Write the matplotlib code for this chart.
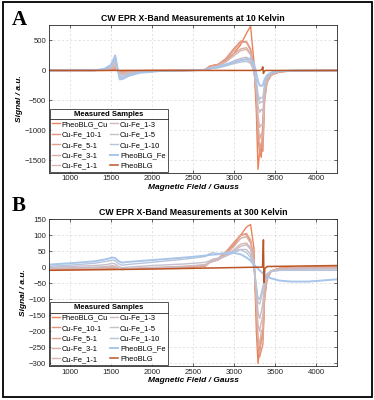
#!/usr/bin/env python3

import matplotlib
matplotlib.use( 'Agg' )
import matplotlib.pyplot as plt
from matplotlib.patches import Rectangle
from matplotlib.lines import Line2D

plt.rcParams['font.family'] = [ 'Liberation Sans', 'DejaVu Sans' ]

labels = [ 'PheoBLG_Cu', 'Cu-Fe_10-1', 'Cu-Fe_5-1', 'Cu-Fe_3-1', 'Cu-Fe_1-1',
           'Cu-Fe_1-3', 'Cu-Fe_1-5', 'Cu-Fe_1-10', 'PheoBLG_Fe', 'PheoBLG' ]

colors = [ '#E8835A', '#E6927A', '#E1A18C', '#DAAEA2', '#D5B7B4',
           '#CDB9C2', '#C5C0CC', '#B7C4DA', '#A9C5EA', '#BC5526' ]

# ---- 10 K : magnetic field grid (Gauss) shared by the nine samples
field10 = [ 750, 1300, 1420, 1500, 1540, 1555, 1580, 1610, 1650, 1720, 1850,
            2100, 2500, 2650, 2700, 2740, 2800, 2900, 3000, 3080, 3150, 3200,
            3240, 3270, 3290, 3310, 3330, 3350, 3370, 3400, 3450, 3550, 3700,
            4250 ]

sig10_PheoBLG_Cu = [ 0, 0, 0, 2, 4, 5, 2, -3, -3, -2, -1, 0, 2, 15, 70, 85, 100,
                     170, 290, 430, 620, 740, 150, -700, -1650, -1350, -1450,
                     -800, -350, -150, -70, -25, -8, 0 ]
sig10_CuFe_10_1  = [ 0, 0, 2, 8, 18, 22, 5, -15, -14, -9, -4, -1, 2, 15, 65, 80,
                     95, 200, 370, 490, 480, 360, 60, -450, -1100, -1400, -1250,
                     -1350, -500, -200, -80, -25, -7, 0 ]
sig10_CuFe_5_1   = [ 0, 0, 4, 14, 30, 38, 9, -25, -23, -15, -6, -2, 2, 12, 60, 75,
                     90, 190, 340, 470, 470, 330, 40, -400, -1000, -1300, -1200,
                     -1250, -480, -190, -75, -23, -6, 0 ]
sig10_CuFe_3_1   = [ 0, 1, 6, 22, 50, 62, 15, -38, -35, -23, -10, -3, 2, 10, 50,
                     60, 75, 150, 280, 360, 380, 280, 20, -350, -900, -1150,
                     -1050, -1100, -430, -170, -65, -20, -5, 0 ]
sig10_CuFe_1_1   = [ 0, 1, 9, 32, 70, 88, 21, -53, -50, -32, -14, -4, 2, 10, 45,
                     55, 70, 140, 250, 330, 350, 260, 20, -300, -750, -950, -900,
                     -920, -380, -150, -60, -18, -5, 0 ]
sig10_CuFe_1_3   = [ 0, 1, 12, 45, 100, 125, 30, -75, -70, -45, -20, -5, 2, 8, 35,
                     45, 55, 100, 160, 200, 220, 170, 10, -250, -600, -700, -650,
                     -680, -300, -120, -50, -15, -4, 0 ]
sig10_CuFe_1_5   = [ 0, 1, 16, 58, 130, 162, 39, -98, -91, -58, -26, -6, 2, 8, 30,
                     38, 45, 85, 130, 170, 180, 140, 0, -200, -450, -550, -520,
                     -530, -250, -100, -40, -12, -3, 0 ]
sig10_CuFe_1_10  = [ 0, 2, 20, 72, 160, 200, 48, -120, -112, -72, -32, -8, 2, 8,
                     28, 35, 42, 75, 115, 140, 150, 120, -10, -180, -400, -480,
                     -450, -460, -220, -90, -35, -10, -3, 0 ]
sig10_PheoBLG_Fe = [ 0, 2, 25, 90, 200, 250, 60, -150, -140, -90, -40, -10, 2, 10,
                     30, 40, 60, 100, 140, 170, 190, 200, 120, -50, -180, -250,
                     -260, -240, -150, -80, -35, -12, -3, 0 ]

field10_PheoBLG = [ 750, 3320, 3338, 3348, 3356, 3366, 3380, 4250 ]
sig10_PheoBLG   = [ 0, 0, 20, 60, -50, -12, 0, 0 ]

# ---- 300 K : magnetic field grid (Gauss) shared by the nine samples
field300 = [ 750, 1000, 1300, 1450, 1520, 1555, 1600, 1640, 1700, 2000, 2400,
             2650, 2700, 2740, 2800, 2900, 3000, 3080, 3150, 3200, 3240, 3270,
             3290, 3310, 3330, 3350, 3370, 3400, 3450, 3550, 3700, 3900, 4250 ]

sig300_PheoBLG_Cu = [ -8, -7, -6, -6, -6, -6, -6, -6, -6, -4, -2, 3, 15, 18, 22,
                      40, 70, 100, 125, 133, 60, -200, -300, -250, -230, -200,
                      -90, -35, -12, -4, -2, 0, 0 ]
sig300_CuFe_10_1  = [ -7, -6, -5, -5, -4, -4, -5, -6, -5, -3, 0, 5, 15, 20, 26,
                      48, 78, 100, 102, 80, 20, -130, -250, -280, -260, -240,
                      -100, -38, -12, -4, -2, 0, 0 ]
sig300_CuFe_5_1   = [ -7, -6, -5, -4, -3, -3, -5, -6, -5, -3, 0, 5, 15, 20, 25,
                      45, 75, 100, 105, 85, 25, -120, -250, -270, -230, -220,
                      -90, -35, -12, -4, -2, -1, 0 ]
sig300_CuFe_3_1   = [ -6, -5, -4, -3, -1, -2, -5, -7, -6, -3, 1, 5, 14, 18, 24,
                      40, 65, 90, 95, 75, 20, -110, -220, -240, -200, -190, -80,
                      -30, -12, -5, -3, -2, -2 ]
sig300_CuFe_1_1   = [ -5, -4, -3, -1, 1, 0, -5, -8, -6, -3, 2, 6, 14, 18, 22, 35,
                      55, 72, 75, 60, 15, -90, -180, -200, -170, -150, -70, -30,
                      -12, -6, -4, -3, -3 ]
sig300_CuFe_1_3   = [ -3, -2, 0, 2, 5, 3, -4, -7, -5, -1, 3, 8, 15, 20, 25, 35,
                      50, 65, 70, 55, 10, -70, -140, -160, -140, -110, -55, -25,
                      -12, -8, -6, -5, -5 ]
sig300_CuFe_1_5   = [ 0, 2, 5, 8, 12, 10, 2, -2, 0, 5, 10, 15, 20, 25, 28, 35,
                      45, 55, 55, 40, 5, -60, -110, -115, -95, -70, -40, -22,
                      -14, -10, -8, -6, -5 ]
sig300_CuFe_1_10  = [ 3, 6, 12, 18, 22, 20, 10, 6, 8, 15, 25, 33, 42, 45, 42, 45,
                      50, 55, 45, 30, 0, -60, -95, -100, -80, -60, -35, -20, -12,
                      -10, -10, -10, -10 ]
sig300_PheoBLG_Fe = [ 8, 12, 18, 25, 30, 28, 18, 14, 16, 22, 30, 36, 38, 39, 40,
                      43, 44, 40, 30, 20, 8, 0, -5, -10, -15, -20, -25, -30, -35,
                      -42, -45, -45, -38 ]

field300_PheoBLG = [ 750, 2000, 3300, 3345, 3356, 3360, 3365, 3372, 3400, 4250 ]
sig300_PheoBLG   = [ -10, -6, 0, 0, 85, 0, -48, -5, 2, 5 ]

sig10 = [ sig10_PheoBLG_Cu, sig10_CuFe_10_1, sig10_CuFe_5_1, sig10_CuFe_3_1,
          sig10_CuFe_1_1, sig10_CuFe_1_3, sig10_CuFe_1_5, sig10_CuFe_1_10,
          sig10_PheoBLG_Fe ]
sig300 = [ sig300_PheoBLG_Cu, sig300_CuFe_10_1, sig300_CuFe_5_1, sig300_CuFe_3_1,
           sig300_CuFe_1_1, sig300_CuFe_1_3, sig300_CuFe_1_5, sig300_CuFe_1_10,
           sig300_PheoBLG_Fe ]

W, H = 374, 400
fig = plt.figure( figsize = ( W / 100, H / 100 ), dpi = 100 )

axA = fig.add_axes( [ 49 / W, 1 - 172.7 / H, 288 / W, 147.7 / H ] )
axB = fig.add_axes( [ 49 / W, 1 - 366 / H, 288 / W, 147 / H ] )

tickCol = '#262626'

def style( ax, title, ylim, yticks ):
    ax.set_xlim( 750, 4250 )
    ax.set_ylim( *ylim )
    ax.set_xticks( [ 1000, 1500, 2000, 2500, 3000, 3500, 4000 ] )
    ax.set_yticks( yticks )
    ax.tick_params( direction = 'in', length = 2, width = 0.5,
                    labelsize = 5.6, colors = tickCol, pad = 2,
                    top = True, right = True )
    for s in ax.spines.values():
        s.set_color( tickCol )
        s.set_linewidth( 0.6 )
    ax.grid( True, linestyle = ( 0, ( 3, 3 ) ), color = '#262626',
             alpha = 0.18, linewidth = 0.5 )
    ax.set_axisbelow( True )
    ax.set_title( title, fontsize = 6.3, fontweight = 'bold', pad = 3 )
    ax.set_xlabel( 'Magnetic Field / Gauss', fontsize = 6.0,
                   fontweight = 'bold', style = 'italic', labelpad = 1 )
    ax.set_ylabel( 'Signal / a.u.', fontsize = 6.0, fontweight = 'bold',
                   style = 'italic', labelpad = 1 )

def legend( ax ):
    leg = ax.legend( ncol = 2, loc = 'lower left', title = 'Measured Samples',
                     fontsize = 5.4, title_fontproperties = { 'size': 5.5,
                     'weight': 'bold' }, frameon = True, fancybox = False,
                     borderaxespad = 0.15, borderpad = 0.25,
                     handlelength = 1.0, handletextpad = 0.3,
                     columnspacing = 0.3, labelspacing = 0.42 )
    leg.get_frame().set_edgecolor( '#262626' )
    leg.get_frame().set_linewidth( 0.7 )
    return leg

for i in range( 9 ):
    axA.plot( field10, sig10[i], color = colors[i],
              lw = 1.4 if i == 8 else 1.0, label = labels[i] )
axA.plot( field10_PheoBLG, sig10_PheoBLG, color = colors[9], lw = 1.1,
          label = labels[9] )

for i in range( 9 ):
    axB.plot( field300, sig300[i], color = colors[i],
              lw = 1.4 if i == 8 else 1.0, label = labels[i] )
axB.plot( field300_PheoBLG, sig300_PheoBLG, color = colors[9], lw = 1.1,
          label = labels[9] )

style( axA, 'CW EPR X-Band Measurements at 10 Kelvin', ( -1706, 758 ),
       [ -1500, -1000, -500, 0, 500 ] )
style( axB, 'CW EPR X-Band Measurements at 300 Kelvin', ( -308, 150 ),
       list( range( -300, 151, 50 ) ) )

legs = [ legend( axA ), legend( axB ) ]

# separator line under the legend title
fig.canvas.draw()
inv = fig.transFigure.inverted()
for leg in legs:
    fb = leg.get_frame().get_window_extent()
    tb = leg.get_title().get_window_extent()
    y = tb.y0 - 1.5
    (x0, yy), (x1, _) = inv.transform( [ ( fb.x0, y ), ( fb.x1, y ) ] )
    fig.add_artist( Line2D( [ x0, x1 ], [ yy, yy ], transform = fig.transFigure,
                            color = '#262626', lw = 0.6, zorder = 10 ) )

# panel letters and outer frame
fig.text( 12 / W, 1 - 25 / H, 'A', family = 'Liberation Serif',
          fontweight = 'bold', fontsize = 15 )
fig.text( 12 / W, 1 - 211 / H, 'B', family = 'Liberation Serif',
          fontweight = 'bold', fontsize = 15 )
fig.add_artist( Rectangle( ( 3 / W, 3 / H ), 369 / W, 395 / H,
                           transform = fig.transFigure, fill = False,
                           ec = 'black', lw = 1.3 ) )

fig.savefig( 'out.png', dpi = 100 )
plt.close()
